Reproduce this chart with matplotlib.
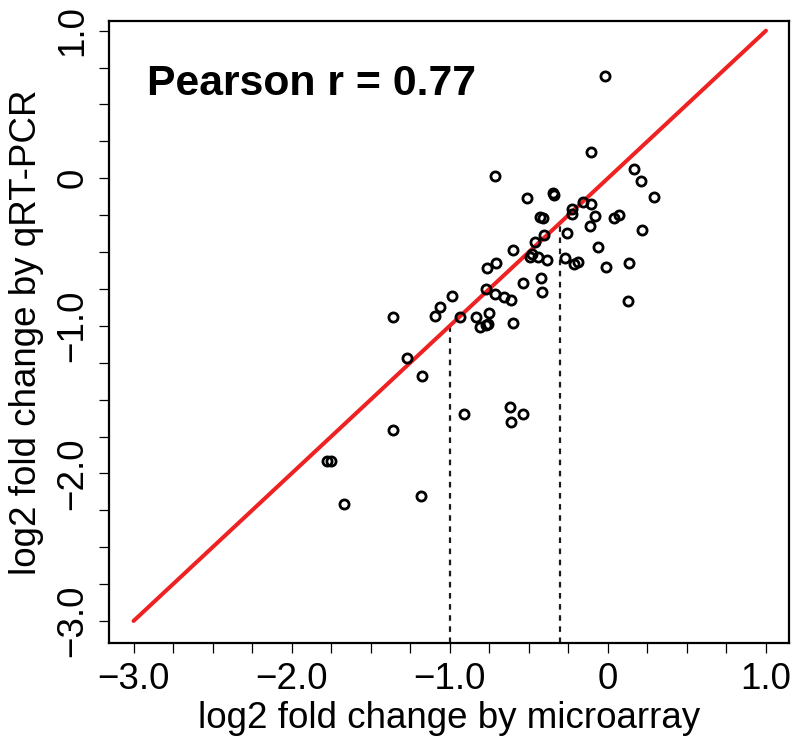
import numpy as np
import matplotlib
matplotlib.use('Agg')
import matplotlib.pyplot as plt
from matplotlib.ticker import MultipleLocator

plt.rcParams['font.family'] = ['Liberation Sans', 'DejaVu Sans']

# log2 fold change: microarray (x) vs qRT-PCR (y)
microarray = [-0.016, -0.107, 0.164, 0.207, 0.291, -0.711, -0.512, -0.347, -0.340,
              -0.154, -0.107, -0.228, -0.224, -0.080, 0.041, 0.069, -0.427, -0.410,
              -0.116, 0.219, -0.402, -0.258, -0.461, -0.063, -0.597, -0.480, -0.491,
              -0.440, -0.387, -0.273, -0.213, -0.186, -0.010, 0.132, -0.709, -0.764,
              -0.537, -0.421, -0.419, -0.773, -0.715, -0.654, -0.612, 0.126, -0.987,
              -1.063, -1.093, -1.357, -0.938, -0.832, -0.753, -0.807, -0.770, -0.760,
              -0.603, -1.271, -1.173, -1.362, -1.775, -1.750, -1.667, -1.179, -0.910,
              -0.618, -0.535, -0.610]
qrtpcr = [0.694, 0.176, 0.066, -0.016, -0.124, 0.016, -0.132, -0.103, -0.112,
          -0.162, -0.176, -0.211, -0.239, -0.254, -0.272, -0.252, -0.264, -0.272,
          -0.324, -0.353, -0.383, -0.374, -0.432, -0.464, -0.484, -0.511, -0.534,
          -0.531, -0.554, -0.543, -0.583, -0.570, -0.603, -0.572, -0.572, -0.605,
          -0.711, -0.673, -0.770, -0.750, -0.781, -0.804, -0.822, -0.831, -0.801,
          -0.872, -0.930, -0.939, -0.941, -0.939, -0.914, -1.009, -0.993, -0.986,
          -0.982, -1.220, -1.340, -1.707, -1.915, -1.915, -2.205, -2.155, -1.599,
          -1.549, -1.599, -1.649]

fit_x = [-3.0, 1.0]
fit_y = [-3.0, 1.0]
dash_x = [-1.0, -0.3]

tick_vals = [-3.0, -2.0, -1.0, 0.0, 1.0]
tick_labels = ['\u22123.0', '\u22122.0', '\u22121.0', '0', '1.0']
r_text = 'Pearson r = 0.77'

fig = plt.figure(figsize=(7.97, 7.36), dpi=100)
ax = fig.add_axes([0.1368, 0.1264, 0.8532, 0.8455])

xlim = (-3.155, 1.146)
ylim = (-3.149, 1.068)
ax.set_xlim(*xlim)
ax.set_ylim(*ylim)

ax.vlines(dash_x, ylim[0], dash_x, colors='#1a1a1a', linestyles=(0, (2.5, 2.5)), linewidth=1.6)
ax.plot(fit_x, fit_y, color='#ee2222', linewidth=2.9, solid_capstyle='round', zorder=2)
ax.plot(microarray, qrtpcr, linestyle='none', marker='o', markersize=6.6,
        markerfacecolor='none', markeredgecolor='black', markeredgewidth=2.0, zorder=3)

ax.text(-2.915, 0.566, r_text, fontsize=30.8, fontweight='bold', ha='left', va='baseline')

ax.set_xticks(tick_vals)
ax.set_xticklabels(tick_labels)
ax.set_yticks(tick_vals)
ax.set_yticklabels(tick_labels, rotation=90, va='center')
ax.xaxis.set_minor_locator(MultipleLocator(0.25))
ax.yaxis.set_minor_locator(MultipleLocator(0.25))
ax.tick_params(which='both', length=7.5, width=0.9, color='black')
ax.tick_params(which='major', labelsize=26.5, pad=6)

for s in ax.spines.values():
    s.set_linewidth(1.6)

ax.set_xlabel('log2 fold change by microarray', fontsize=26.5, labelpad=3)
ax.set_ylabel('log2 fold change by qRT-PCR', fontsize=26.5, labelpad=8)

fig.savefig('out.png', dpi=100)
